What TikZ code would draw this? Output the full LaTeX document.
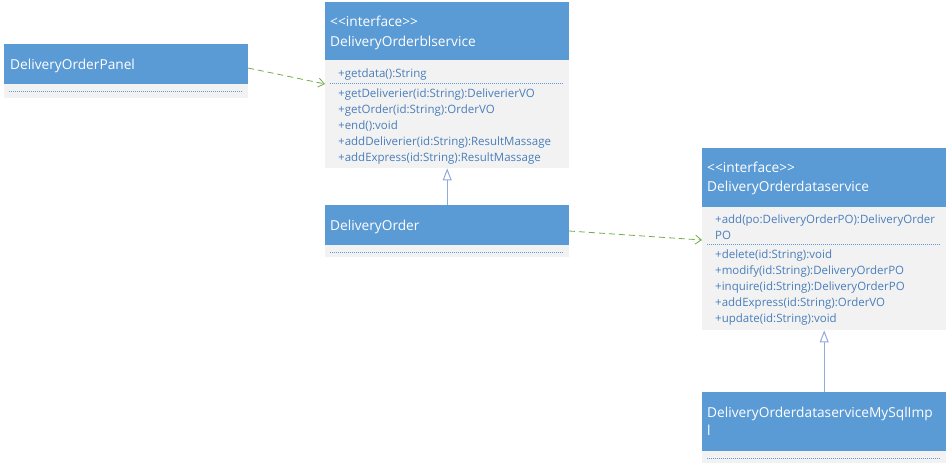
\documentclass[tikz,border=0pt]{standalone}
\usepackage{fontspec}
\setmainfont{Open Sans}
\usetikzlibrary{arrows.meta}
\definecolor{hdrblue}{HTML}{5B9BD5}
\definecolor{bodygray}{HTML}{F2F2F2}
\definecolor{bodytxt}{HTML}{4A7EBB}
\definecolor{depgreen}{HTML}{70AD47}
\definecolor{inhline}{HTML}{8FAADC}
\tikzset{
  hdr/.style={fill=hdrblue, draw=none, anchor=north west, inner sep=0pt},
  bodybox/.style={fill=bodygray, draw=none, anchor=north west, inner sep=0pt},
  htxt/.style={anchor=base west, inner sep=0pt, text=white, font=\fontsize{13.7}{16}\selectfont},
  btxt/.style={anchor=base west, inner sep=0pt, text=bodytxt, font=\fontsize{11.5}{13}\selectfont},
  sep/.style={draw=hdrblue, line width=0.6pt, dash pattern=on 1pt off 1pt},
  dep/.style={draw=depgreen, line width=0.8pt, dash pattern=on 6pt off 4pt, -{Straight Barb[length=6pt,width=9pt]}},
  inh/.style={draw=inhline, line width=1pt, -{Triangle[open, length=12pt, width=9pt, fill=white]}}
}
\begin{document}
\begin{tikzpicture}[x=1pt,y=-1pt]
\useasboundingbox (0,0) rectangle (949,464);
% Panel
\node[bodybox, minimum width=244, minimum height=14] (panelb) at (4,84) {};
\node[hdr, minimum width=244, minimum height=40] (panel) at (4,44) {};
\draw[sep] (9,91.5) -- (243,91.5);
\node[htxt] (panelt) at (10,69) {DeliveryOrderPanel};
% blservice
\node[bodybox, minimum width=244, minimum height=108] (bsb) at (325,60) {};
\node[hdr, minimum width=244, minimum height=58] (bs) at (325,2) {};
\node[htxt] (bst1) at (330,26.5) {{<}{<}interface{>}{>}};
\node[htxt] (bst2) at (330,46) {DeliveryOrderblservice};
\node[btxt] (bsm0) at (338,77) {+getdata():String};
\draw[sep] (330,83.5) -- (564,83.5);
\node[btxt] (bsm1) at (338,97) {+getDeliverier(id:String):DeliverierVO};
\node[btxt] (bsm2) at (338,113) {+getOrder(id:String):OrderVO};
\node[btxt] (bsm3) at (338,129) {+end():void};
\node[btxt] (bsm4) at (338,145) {+addDeliverier(id:String):ResultMassage};
\node[btxt] (bsm5) at (338,161) {+addExpress(id:String):ResultMassage};
% DeliveryOrder
\node[bodybox, minimum width=244, minimum height=12] (dob) at (325,245) {};
\node[hdr, minimum width=244, minimum height=40] (do) at (325,205) {};
\draw[sep] (330,252) -- (564,252);
\node[htxt] (dot) at (330,230) {DeliveryOrder};
% dataservice
\node[bodybox, minimum width=244, minimum height=123] (dsb) at (702,207) {};
\node[hdr, minimum width=244, minimum height=59] (ds) at (702,148) {};
\node[htxt] (dst1) at (707,172) {{<}{<}interface{>}{>}};
\node[htxt] (dst2) at (707,191.5) {DeliveryOrderdataservice};
\node[btxt] (dsm0) at (715,223) {+add(po:DeliveryOrderPO):DeliveryOrder};
\node[btxt] (dsm0b) at (715,239) {PO};
\draw[sep] (707,244.5) -- (941,244.5);
\node[btxt] (dsm1) at (715,258) {+delete(id:String):void};
\node[btxt] (dsm2) at (715,274) {+modify(id:String):DeliveryOrderPO};
\node[btxt] (dsm3) at (715,290) {+inquire(id:String):DeliveryOrderPO};
\node[btxt] (dsm4) at (715,306) {+addExpress(id:String):OrderVO};
\node[btxt] (dsm5) at (715,322) {+update(id:String):void};
% MySqlImpl
\node[bodybox, minimum width=244, minimum height=12] (mysb) at (702,451) {};
\node[hdr, minimum width=244, minimum height=59] (mys) at (702,392) {};
\draw[sep] (707,458) -- (941,458);
\node[htxt] (myst1) at (707,417) {DeliveryOrderdataserviceMySqlImp};
\node[htxt] (myst2) at (707,435) {l};
% connectors
\coordinate (c1s) at (248,68);
\coordinate (c1e) at (325,84);
\draw[dep] (c1s) -- (c1e);
\coordinate (c2s) at (569,231);
\coordinate (c2e) at (702,240);
\draw[dep] (c2s) -- (c2e);
\draw[inh] (do.north) -- (bsb.south);
\draw[inh] (mys.north) -- (dsb.south);
\end{tikzpicture}
\end{document}
